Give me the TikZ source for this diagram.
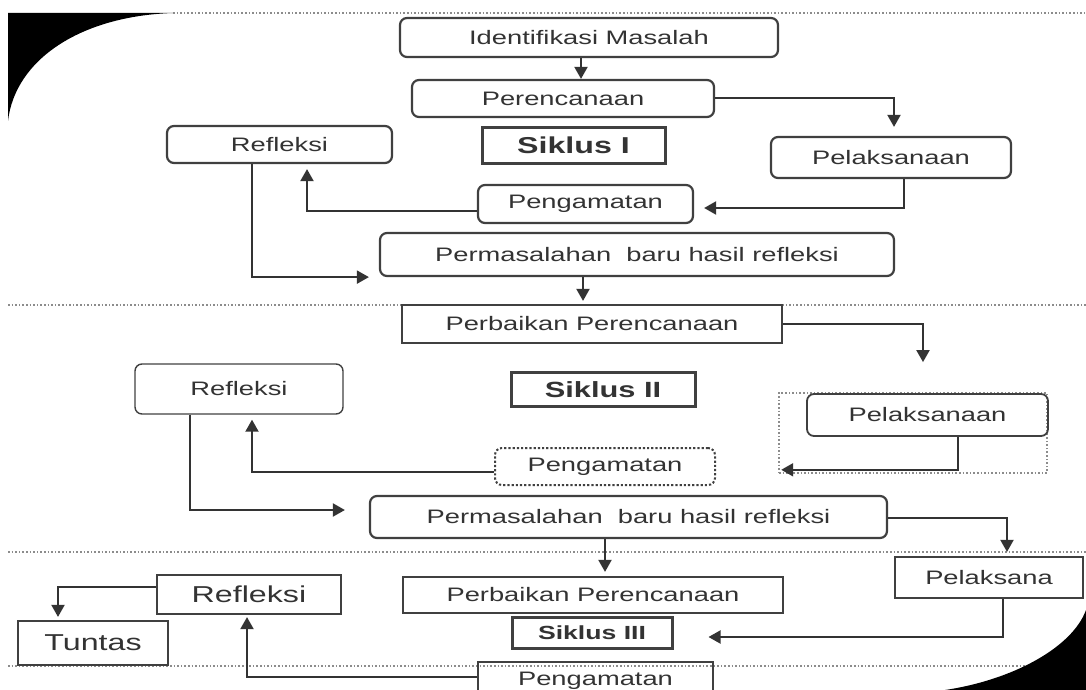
\documentclass[tikz,border=0pt]{standalone}
\usepackage{fontspec}
\setmainfont[FakeStretch=1.4]{Liberation Sans}
\usetikzlibrary{arrows.meta}

\begin{document}
\begin{tikzpicture}[x=0.5pt,y=-0.5pt,
  box/.style={draw=black!75,line width=1.1pt,inner sep=0pt,text=black!80,font=\fontsize{9.75}{11}\selectfont},
  rbox/.style={box,rounded corners=3.5pt},
  sbox/.style={box,line width=1.5pt,font=\fontsize{11.5}{13}\selectfont\bfseries},
  bigbox/.style={box,font=\fontsize{11.5}{13}\selectfont},
  arr/.style={draw=black!80,line width=1pt,-{Triangle[length=6pt,width=6.5pt]}},
  sep/.style={draw=black!45,densely dotted,line width=0.8pt}]
\useasboundingbox (0,0) rectangle (1086,690);

\draw[sep] (173,13) -- (1086,13);
\draw[sep] (8,305) -- (1086,305);
\draw[sep] (8,552) -- (1086,552);
\draw[sep] (8,666) -- (1086,666);

\node[rbox,minimum width=189pt,minimum height=19.5pt] (ident) at (589,37.5) {Identifikasi Masalah};
\node[rbox,minimum width=151pt,minimum height=18.5pt] (renc1) at (563,98.5) {Perencanaan};
\node[sbox,minimum width=91.5pt,minimum height=17.5pt] (sik1) at (573.5,145.5) {Siklus I};
\node[rbox,minimum width=112.5pt,minimum height=18.5pt] (refl1) at (279.5,144.5) {Refleksi};
\node[rbox,minimum width=120pt,minimum height=20.5pt] (pelak1) at (891,157.5) {Pelaksanaan};
\node[rbox,minimum width=107.5pt,minimum height=19pt] (amat1) at (585.5,204) {Pengamatan};
\node[rbox,minimum width=257pt,minimum height=21.5pt] (masal1) at (637,254.5) {Permasalahan\ \ baru hasil refleksi};

\node[box,minimum width=190pt,minimum height=19pt] (baik2) at (592,324) {Perbaikan Perencanaan};
\node[sbox,font=\fontsize{11}{13}\selectfont\bfseries,minimum width=92pt,minimum height=17pt] (sik2) at (603,389.5) {Siklus II};
\node[rbox,line width=0.7pt,minimum width=104pt,minimum height=25pt] (refl2) at (239,389) {Refleksi};
\node[sep,inner sep=0pt,minimum width=134pt,minimum height=40pt] (frame2) at (913,433) {};
\node[rbox,line width=0.9pt,minimum width=120.5pt,minimum height=21pt] (pelak2) at (927.5,415) {Pelaksanaan};
\node[rbox,densely dotted,line width=1pt,minimum width=110pt,minimum height=18.5pt] (amat2) at (605,466.5) {Pengamatan};
\node[rbox,minimum width=258.5pt,minimum height=21pt] (masal2) at (628.5,517) {Permasalahan\ \ baru hasil refleksi};

\node[box,minimum width=94pt,minimum height=20.5pt] (pelak3) at (989,577.5) {Pelaksana};
\node[box,minimum width=190pt,minimum height=18pt] (baik3) at (593,595) {Perbaikan Perencanaan};
\node[sbox,font=\fontsize{9.5}{11}\selectfont\bfseries,minimum width=80pt,minimum height=15.5pt] (sik3) at (592,632.5) {Siklus III};
\node[bigbox,minimum width=92pt,minimum height=19.5pt] (refl3) at (249,594.5) {Refleksi};
\node[bigbox,minimum width=75pt,minimum height=22pt] (tuntas) at (93,643) {Tuntas};
\node[box,minimum width=117.5pt,minimum height=19pt] (amat3) at (595.5,681) {Pengamatan};

\draw[arr] (ident.south -| 581,0) -- (renc1.north -| 581,0);
\draw[arr,shorten >=4.5pt] (renc1.east) -| ([xshift=1.5pt]pelak1.north);
\draw[arr,shorten >=5pt] ([xshift=6.5pt]pelak1.south) |- ([yshift=-2pt]amat1.east);
\draw[arr,shorten >=2.5pt] ([yshift=-3.5pt]amat1.west) -| ([xshift=13.75pt]refl1.south);
\draw[arr,shorten >=5pt] ([xshift=-13.75pt]refl1.south) |- (masal1.south west);
\draw[arr,shorten >=1.5pt] (masal1.south -| 583,0) -- (baik2.north -| 583,0);

\draw[arr,shorten >=15.5pt] (baik2.east) -| ([xshift=-2.25pt]pelak2.north);
\draw[arr,shorten >=1.5pt] ([xshift=15.25pt]pelak2.south) |- ([yshift=2pt]frame2.south west);
\draw[arr,shorten >=2.5pt] ([yshift=-2.75pt]amat2.west) -| ([xshift=6.5pt]refl2.south);
\draw[arr,shorten >=12pt] ([xshift=-24.5pt]refl2.south) |- ([yshift=3.5pt]masal2.west);
\draw[arr,shorten >=2pt] ([yshift=-0.5pt]masal2.east) -| ([xshift=9pt]pelak3.north);
\draw[arr,shorten >=2pt] (masal2.south -| 605,0) -- (baik3.north -| 605,0);

\draw[arr,shorten >=17.5pt] ([xshift=7pt]pelak3.south) |- ([yshift=-2.25pt]sik3.east);
\draw[arr,shorten >=1pt] ([yshift=2pt]amat3.west) -| ([xshift=-1pt]refl3.south);
\draw[arr,shorten >=1.5pt] ([yshift=3.75pt]refl3.west) -| ([xshift=-17.5pt]tuntas.north);

\fill (8,13) -- (173,13) .. controls (80,16) and (15,60) .. (8,121) -- cycle;
\fill (1086,610) .. controls (1072,648) and (1012,680) .. (945,690) -- (1086,690) -- cycle;
\end{tikzpicture}
\end{document}
